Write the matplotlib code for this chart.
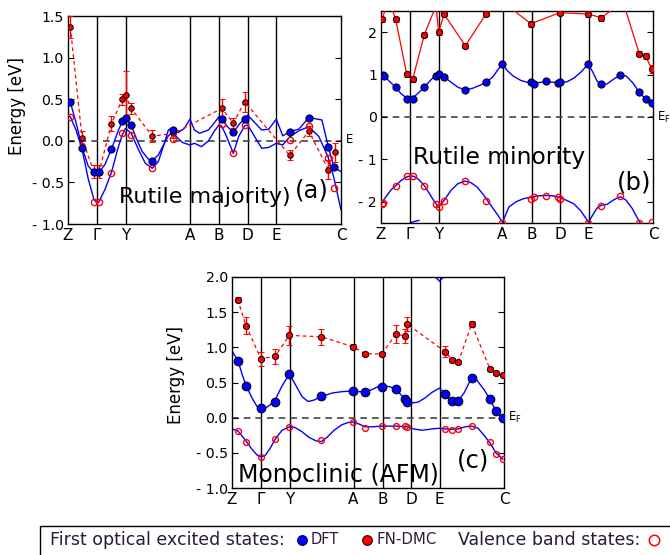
import matplotlib
matplotlib.use("Agg")
import matplotlib.pyplot as plt
from matplotlib.lines import Line2D
from matplotlib.patches import Rectangle
import matplotlib.transforms as mtransforms

# ---------------- k-path ----------------
kpath_pos = [0, 29, 57.5, 121.5, 150.5, 179, 207.5, 272]
kpath_labels = ["Z", "Γ", "Y", "A", "B", "D", "E", "C"]

# ---------------- Panel (a): Rutile majority ----------------
a_k_dft = [2.3, 14.3, 25.7, 31, 43.3, 54, 57.3, 63, 84, 105, 153.3, 164.7, 176, 221, 240, 259.3, 265]
a_dft = [0.465, -0.088, -0.373, -0.373, -0.104, 0.232, 0.272, 0.192, -0.24, 0.124, 0.268, 0.10, 0.268, 0.108, 0.276, -0.072, -0.32]
a_k_dmc = [2.3, 14, 25.7, 31, 43.3, 54, 57.3, 63, 84, 105, 153.3, 164.7, 176, 221, 240, 259.3, 265.7]
a_dmc = [1.37, 0.036, -0.373, -0.373, 0.204, 0.497, 0.55, 0.389, 0.056, 0.088, 0.389, 0.212, 0.469, -0.176, 0.116, -0.345, -0.14]
a_dmc_err = [0.13, 0.08, 0.08, 0.08, 0.09, 0.07, 0.29, 0.07, 0.07, 0.05, 0.11, 0.06, 0.12, 0.06, 0.06, 0.11, 0.11]
a_k_val = [2.3, 25.7, 31, 43.3, 54, 63, 84, 105, 153.3, 164.7, 176, 221, 240, 259.3, 265]
a_val = [0.288, -0.737, -0.737, -0.385, 0.096, 0.072, -0.33, 0.02, 0.2, -0.152, 0.188, 0.008, 0.176, -0.208, -0.565]
a_cb_k = [0, 2.3, 8, 14, 20, 25.7, 31, 37, 43.3, 50, 54, 57.3, 63, 68, 74, 80, 84, 90, 96, 100, 105, 110, 116, 121.5,
          126, 131, 140, 146, 150.5, 153, 158, 164.7, 170, 176, 179, 186, 193, 200, 207.5, 214, 221, 230, 240, 253,
          259.3, 265, 272]
a_cb = [0.49, 0.465, 0.22, -0.08, -0.30, -0.38, -0.38, -0.28, -0.10, 0.12, 0.23, 0.27, 0.19, 0.03, -0.13, -0.22, -0.24,
        -0.17, -0.03, 0.06, 0.12, 0.10, 0.15, 0.26, 0.13, 0.09, 0.13, 0.22, 0.29, 0.27, 0.18, 0.10, 0.19, 0.27, 0.31,
        0.22, 0.13, 0.14, 0.26, 0.06, 0.11, 0.14, 0.28, 0.25, -0.07, -0.32, -0.37]
a_vb_k = [0, 2.3, 8, 14, 20, 25.7, 29, 31, 37, 43.3, 50, 54, 57.3, 63, 70, 77, 84, 90, 96, 100, 103, 108, 114, 121.5,
          126, 133, 140, 146, 150.5, 153, 158, 164.7, 170, 176, 179, 186, 193, 200, 207.5, 214, 221, 230, 240, 250,
          259.3, 265, 272]
a_vb = [0.30, 0.29, 0.13, -0.10, -0.45, -0.70, -0.75, -0.73, -0.58, -0.38, -0.08, 0.07, 0.15, 0.09, -0.10, -0.27,
        -0.33, -0.25, -0.03, 0.13, 0.15, 0.05, -0.02, -0.05, -0.03, -0.07, 0.0, 0.12, 0.19, 0.18, 0.05, -0.15, 0.05,
        0.18, 0.19, 0.05, -0.09, -0.08, -0.03, -0.05, 0.05, 0.12, 0.17, 0.05, -0.20, -0.45, -0.83]
a_yticks = [-1.0, -0.5, 0.0, 0.5, 1.0, 1.5]
a_yticklabels = ["- 1.0", "- 0.5", "0.0", "0.5", "1.0", "1.5"]

# ---------------- Panel (b): Rutile minority ----------------
b_k_dft = [1.5, 3.3, 14.7, 25.7, 31.7, 43.3, 54.7, 57.7, 63, 84.3, 105, 121.3, 150, 152.7, 164.7, 176.7, 179, 207.3,
           220.3, 239.3, 258.3, 264.7, 270.7]
b_dft = [1.0, 0.97, 0.70, 0.435, 0.435, 0.70, 0.97, 1.01, 0.95, 0.633, 0.815, 1.25, 0.815, 0.79, 0.84, 0.80, 0.815,
         1.25, 0.775, 0.988, 0.578, 0.42, 0.34]
b_k_dmc = [0.7, 8, 14.7, 25.7, 31.7, 43.3, 55, 57.7, 63, 84.3, 105, 121.3, 150, 178.7, 207.3, 220.3, 242, 258.3,
           264.7, 270.7]
b_dmc = [2.30, 2.75, 2.30, 1.01, 0.89, 1.94, 2.62, 2.0, 2.43, 1.68, 2.43, 2.72, 2.2, 2.46, 2.43, 2.34, 2.72, 1.49,
         1.43, 1.13]
b_dmc_err = [0.06, 0.06, 0.06, 0.06, 0.06, 0.06, 0.06, 0.07, 0.05, 0.06, 0.05, 0.06, 0.07, 0.05, 0.06, 0.07, 0.06,
             0.06, 0.07, 0.1]
b_k_val = [0.7, 2.3, 14.7, 25.7, 31.7, 43.3, 54.7, 57.7, 63, 84.3, 105, 121.3, 150, 152.7, 164.7, 176.7, 179, 207.3,
           220.3, 239.3, 258.3, 270.7]
b_val = [-2.06, -2.04, -1.62, -1.40, -1.40, -1.62, -2.05, -2.12, -1.98, -1.52, -1.97, -2.49, -1.93, -1.89, -1.86,
         -1.89, -1.93, -2.49, -2.09, -1.87, -2.49, -2.48]
b_cb_k = [0, 3.3, 8, 14.7, 20, 25.7, 28.5, 31.7, 37, 43.3, 50, 54.7, 57.7, 63, 70, 77, 84.3, 92, 100, 105, 112, 117,
          121.3, 126, 132, 140, 146, 150, 157, 164.7, 172, 179, 186, 193, 200, 207.3, 212, 216, 220.3, 226, 233,
          239.3, 245, 252, 258.3, 264.7, 272]
b_cb = [1.03, 0.97, 0.85, 0.70, 0.55, 0.45, 0.43, 0.45, 0.56, 0.70, 0.88, 0.97, 1.0, 0.95, 0.82, 0.70, 0.64, 0.68,
        0.76, 0.82, 0.95, 1.12, 1.25, 1.10, 0.97, 0.86, 0.82, 0.81, 0.81, 0.83, 0.82, 0.81, 0.83, 0.92, 1.06, 1.25,
        1.05, 0.85, 0.77, 0.78, 0.90, 0.99, 0.97, 0.80, 0.58, 0.42, 0.33]
b_vb_k = [0, 5, 10, 14.7, 20, 25, 29, 33, 38, 43.3, 48, 53, 57.5, 63, 70, 77, 84.3, 90, 96, 102, 108, 114, 121.5,
          128, 135, 142, 150, 157, 164.7, 172, 179, 186, 193, 200, 207.5, 212, 216, 220.3, 226, 233, 239.3, 245,
          251, 258, 262]
b_vb = [-2.05, -1.88, -1.72, -1.62, -1.50, -1.42, -1.39, -1.40, -1.48, -1.62, -1.79, -1.98, -2.12, -1.97, -1.73,
        -1.57, -1.51, -1.55, -1.65, -1.82, -2.02, -2.22, -2.48, -2.12, -2.0, -1.93, -1.89, -1.86, -1.85, -1.86, -1.90,
        -1.97, -2.05, -2.22, -2.48, -2.3, -2.15, -2.08, -2.06, -1.95, -1.88, -1.96, -2.15, -2.45, -2.6]
b_vb2_k = [26, 30, 34, 38]
b_vb2 = [-2.55, -2.49, -2.46, -2.44]
b_yticks = [-2, -1, 0, 1, 2]
b_yticklabels = ["- 2", "- 1", "0", "1", "2"]

# ---------------- Panel (c): Monoclinic (AFM) ----------------
c_k_dft = [6.3, 14.3, 28.7, 43, 57.3, 89.3, 120.7, 133, 149.7, 164, 173, 175.3, 213, 220.3, 226.3, 239.7, 258, 264,
           270.7]
c_dft = [0.80, 0.445, 0.137, 0.227, 0.62, 0.303, 0.374, 0.365, 0.431, 0.403, 0.265, 0.223, 0.341, 0.242, 0.242,
         0.569, 0.261, 0.09, 0.0]
c_k_dmc = [5.7, 14, 28.7, 43, 57.3, 89.3, 120.7, 133, 149.7, 164, 173, 175.3, 213, 220.3, 226.3, 239.7, 258, 264,
           270.7]
c_dmc = [1.68, 1.31, 0.84, 0.87, 1.17, 1.15, 1.01, 0.91, 0.905, 1.19, 1.16, 1.33, 0.94, 0.82, 0.79, 1.33, 0.69, 0.635,
         0.61]
c_dmc_err = [0.03, 0.12, 0.1, 0.11, 0.13, 0.11, 0.04, 0.03, 0.03, 0.13, 0.1, 0.1, 0.08, 0.03, 0.03, 0.04, 0.03, 0.03,
             0.03]
c_k_val = c_k_dmc
c_val = [-0.19, -0.34, -0.56, -0.31, -0.128, -0.322, -0.066, -0.147, -0.118, -0.118, -0.118, -0.133, -0.166, -0.17,
         -0.166, -0.118, -0.346, -0.51, -0.59]
c_cb_k = [0, 6.3, 10, 14.3, 20, 25, 29, 33, 38, 43, 50, 57.3, 63, 70, 76, 82, 89.3, 100, 110, 120.7, 127, 133, 140,
          146, 152, 158, 164, 170, 175.3, 180, 186, 193, 200, 207.5, 213, 217, 220.3, 226.3, 232, 239.7, 245, 252,
          258, 264, 270.7]
c_cb = [0.95, 0.80, 0.62, 0.45, 0.28, 0.16, 0.12, 0.13, 0.18, 0.25, 0.45, 0.62, 0.48, 0.30, 0.23, 0.25, 0.30, 0.35,
        0.37, 0.38, 0.37, 0.365, 0.40, 0.44, 0.45, 0.44, 0.40, 0.31, 0.23, 0.21, 0.22, 0.28, 0.36, 0.42, 0.34, 0.27,
        0.245, 0.24, 0.35, 0.57, 0.53, 0.40, 0.26, 0.09, 0.0]
c_vb_k = [0, 6, 14, 20, 25, 29, 33, 38, 43, 50, 57.3, 63, 70, 77, 84, 89.3, 95, 102, 110, 116, 120.7, 127, 133, 140,
          150, 164, 175.3, 182, 190, 200, 207.5, 213, 220, 226.3, 233, 239.7, 246, 252, 258, 264, 270.7]
c_vb = [-0.16, -0.19, -0.33, -0.45, -0.53, -0.56, -0.54, -0.44, -0.31, -0.18, -0.13, -0.14, -0.20, -0.28, -0.33,
        -0.34, -0.28, -0.18, -0.10, -0.07, -0.06, -0.09, -0.13, -0.13, -0.12, -0.12, -0.13, -0.16, -0.18, -0.16,
        -0.15, -0.16, -0.165, -0.16, -0.13, -0.12, -0.15, -0.25, -0.36, -0.50, -0.59]
c_hi_k = [200, 207.5, 215]
c_hi = [2.05, 1.94, 2.05]
c_yticks = [-1.0, -0.5, 0.0, 0.5, 1.0, 1.5, 2.0]
c_yticklabels = ["- 1.0", "- 0.5", "0.0", "0.5", "1.0", "1.5", "2.0"]

BLUE = "#0000ff"
RED = "#ff0000"
W, H = 670, 555

fig = plt.figure(figsize=(6.7, 5.55), dpi=100)
plt.rcParams['font.family'] = ['DejaVu Sans']


def px_axes(left, top, right, bottom):
    return fig.add_axes([left / W, 1 - bottom / H, (right - left) / W, (bottom - top) / H])


def setup(ax, ylim, yticks, yticklabels):
    ax.set_xlim(0, 272)
    ax.set_ylim(*ylim)
    ax.set_xticks(kpath_pos)
    ax.set_xticklabels(kpath_labels, fontsize=11)
    ax.set_yticks(yticks)
    ax.set_yticklabels(yticklabels, fontsize=10.2)
    ax.tick_params(axis='x', length=0, pad=3)
    ax.tick_params(axis='y', direction='in', length=4, right=True, left=True, pad=3)
    for x in kpath_pos[1:-1]:
        ax.axvline(x, color='black', lw=1.0, zorder=1)
    ax.axhline(0, color='#444444', lw=1.2, ls=(0, (4, 3)), zorder=1)
    for s in ax.spines.values():
        s.set_linewidth(1.0)


def draw(ax, bands, k_dft, dft, k_dmc, dmc, err, k_val, val, dmc_ls, ms_b, ms_r, ms_v):
    for bk, bv in bands:
        ax.plot(bk, bv, color=BLUE, lw=1.0, zorder=2)
    ax.errorbar(k_dmc, dmc, yerr=err, color=RED, ls=dmc_ls, lw=0.9, elinewidth=1.0, capsize=2.5,
                capthick=1.0, marker='o', ms=ms_r, mfc=RED, mec='black', mew=0.7, zorder=3)
    ax.plot(k_val, val, ls='none', marker='o', ms=ms_v, mfc='none', mec=RED, mew=1.0, zorder=4)
    ax.plot(k_dft, dft, ls='none', marker='o', ms=ms_b, mfc=BLUE, mec='black', mew=0.7, zorder=5)


def ef_label(ax, dx=4):
    trans = mtransforms.blended_transform_factory(ax.transAxes, ax.transData)
    ax.text(1.0, 0, "E$_\\mathrm{F}$", transform=trans + mtransforms.ScaledTranslation(dx / 100, 0, fig.dpi_scale_trans),
            fontsize=8.5, va='center', ha='left', clip_on=False)


# (a)
axa = px_axes(68, 16, 341, 224)
setup(axa, (-1.0, 1.5), a_yticks, a_yticklabels)
draw(axa, [(a_cb_k, a_cb), (a_vb_k, a_vb)], a_k_dft, a_dft, a_k_dmc, a_dmc, a_dmc_err, a_k_val, a_val,
     (0, (3, 2.5)), 5.2, 4.0, 4.5)
axa.set_ylabel("Energy [eV]", fontsize=12)
axa.yaxis.set_label_coords(-0.155, 0.567)
ef_label(axa)
axa.text(0.5, 0.13, "Rutile majority)", transform=axa.transAxes, fontsize=16, ha='center', va='center', zorder=6)
axa.text(0.894, 0.163, "(a)", transform=axa.transAxes, fontsize=17.5, ha='center', va='center', zorder=6)

# (b)
axb = px_axes(381, 11, 653, 223)
setup(axb, (-2.5, 2.5), b_yticks, b_yticklabels)
axb.plot(b_vb2_k, b_vb2, color=BLUE, lw=1.0, zorder=2)
draw(axb, [(b_cb_k, b_cb), (b_vb_k, b_vb)], b_k_dft, b_dft, b_k_dmc, b_dmc, b_dmc_err, b_k_val, b_val,
     '-', 5.2, 4.5, 4.5)
ef_label(axb)
axb.text(0.434, 0.311, "Rutile minority", transform=axb.transAxes, fontsize=16.8, ha='center', va='center', zorder=6)
axb.text(0.932, 0.193, "(b)", transform=axb.transAxes, fontsize=17.5, ha='center', va='center', zorder=6)

# (c)
axc = px_axes(232, 277, 504, 488)
setup(axc, (-1.0, 2.0), c_yticks, c_yticklabels)
axc.plot(c_hi_k, c_hi, color=BLUE, lw=1.0, zorder=2)
draw(axc, [(c_cb_k, c_cb), (c_vb_k, c_vb)], c_k_dft, c_dft, c_k_dmc, c_dmc, c_dmc_err, c_k_val, c_val,
     (0, (3, 2.5)), 6.3, 4.5, 4.2)
axc.set_ylabel("Energy [eV]", fontsize=12)
axc.yaxis.set_label_coords(-0.172, 0.535)
ef_label(axc)
axc.text(0.392, 0.062, "Monoclinic (AFM)", transform=axc.transAxes, fontsize=17, ha='center', va='center', zorder=6)
axc.text(0.886, 0.13, "(c)", transform=axc.transAxes, fontsize=17.5, ha='center', va='center', zorder=6)

# cover the tail of (a)'s E_F label (as in the reference)
fig.add_artist(Rectangle((353 / W, 1 - 155 / H), 18 / W, 30 / H, transform=fig.transFigure,
                         facecolor='white', edgecolor='none', zorder=10))

# legend box
fig.add_artist(Rectangle((40 / W, 1 - 565 / H), 650 / W, 39 / H, transform=fig.transFigure,
                         facecolor='white', edgecolor='black', lw=1.0, zorder=5, clip_on=False))
LC = "#2b1a3a"
ly = 1 - 540 / H
fig.text(50 / W, ly, "First optical excited states:", fontsize=12.5, color=LC, va='center', ha='left', zorder=6)
fig.add_artist(Line2D([302 / W], [ly], transform=fig.transFigure, marker='o', ms=7, mfc=BLUE, mec='#000066',
                      mew=0.8, ls='none', zorder=6))
fig.text(311 / W, ly, "DFT", fontsize=10.5, color=LC, va='center', ha='left', zorder=6)
fig.add_artist(Line2D([367 / W], [ly], transform=fig.transFigure, marker='o', ms=7, mfc=RED, mec='#330000',
                      mew=0.8, ls='none', zorder=6))
fig.text(377 / W, ly, "FN-DMC", fontsize=10.8, color=LC, va='center', ha='left', zorder=6)
fig.text(458 / W, ly, "Valence band states:", fontsize=12.5, color=LC, va='center', ha='left', zorder=6)
fig.add_artist(Line2D([654 / W], [ly], transform=fig.transFigure, marker='o', ms=7.5, mfc='none', mec=RED,
                      mew=1.1, ls='none', zorder=6))

fig.savefig("out.png", dpi=100)
